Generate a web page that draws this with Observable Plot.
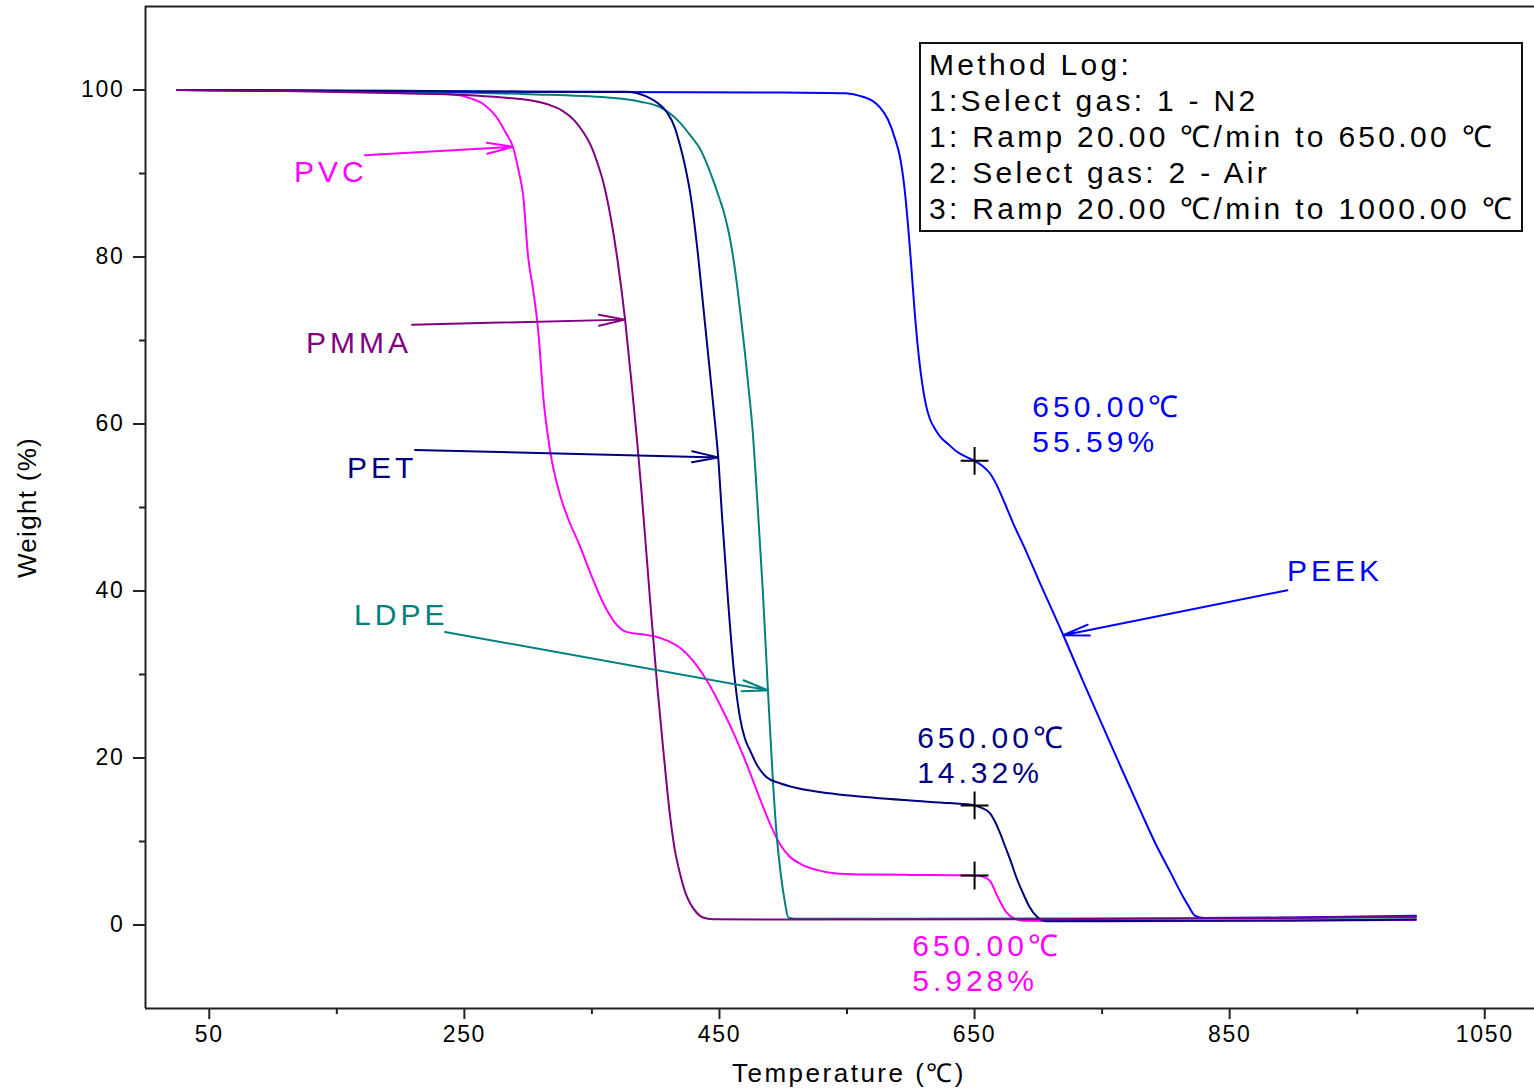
<!DOCTYPE html>
<html>
<head>
<meta charset="utf-8">
<script src="https://cdn.jsdelivr.net/npm/d3@7"></script>
<script src="https://cdn.jsdelivr.net/npm/@observablehq/plot@0.6"></script>
<style>
  body { margin: 0; background: #fff; }
  #wrap { position: relative; width: 1534px; height: 1092px; font-family: "Liberation Sans", Arial, sans-serif; }
  #wrap svg { font-family: "Liberation Sans", Arial, sans-serif; }
  #log { position: absolute; left: 919px; top: 42px; width: 604px; height: 190px; box-sizing: border-box;
         border: 2px solid #111; background: #fff; color: #000; font-size: 30px; letter-spacing: 3.3px;
         line-height: 36px; padding: 3px 0 0 8px; white-space: pre; }
</style>
</head>
<body>
<div id="wrap"></div>
<script>
// ---------- data (temperature °C, weight %) ----------
const materials = ["PVC", "PMMA", "PET", "LDPE", "PEEK"];

const pvcT = [25, 100, 150, 200, 240, 255, 265, 275, 282, 288, 293, 296, 300, 304, 308, 312, 317, 325, 331, 340, 350, 360, 368, 377, 390, 398, 410, 419, 430, 440, 450, 461, 472, 482, 490, 497, 505, 515, 526, 540, 560, 600, 650, 656, 662, 668, 675, 681, 690, 750, 850, 996];
const pvcW = [100, 100, 99.9, 99.7, 99.5, 99.0, 98.3, 96.8, 95.0, 93.2, 90.0, 87.5, 80.0, 76.0, 71.0, 63.0, 57.0, 51.5, 48.8, 45.6, 41.7, 38.2, 36.2, 35.1, 34.8, 34.6, 34.0, 33.2, 31.5, 29.3, 26.5, 23.0, 19.0, 15.0, 12.0, 9.8, 8.2, 7.2, 6.6, 6.2, 6.05, 6.0, 5.93, 5.8, 5.3, 3.4, 1.5, 0.8, 0.5, 0.45, 0.5, 0.6];

const pmmaT = [25, 100, 200, 250, 280, 300, 315, 327, 336, 343, 349, 354, 359, 365, 370, 376, 381, 385.4, 389, 395.6, 401, 406, 411.4, 415, 419, 423, 427, 432, 437, 445, 500, 700, 850, 996];
const pmmaW = [100, 99.9, 99.6, 99.4, 99.1, 98.8, 98.3, 97.5, 96.4, 95.0, 93.4, 91.4, 88.9, 84.5, 79.7, 72.5, 65.0, 58.0, 51.7, 38.9, 29.0, 20.9, 12.9, 9.0, 6.2, 4.0, 2.6, 1.5, 0.9, 0.7, 0.65, 0.7, 0.8, 1.0];

const petT = [25, 200, 300, 377, 393, 401, 409, 415, 419, 423, 427, 433, 438, 442, 446.6, 449, 452, 456.7, 461, 466, 470, 474, 480, 487, 497, 508, 530, 552, 600, 630, 650, 656, 662, 666, 670, 674, 678, 683, 688, 693, 699, 707, 800, 900, 996];
const petW = [100, 99.9, 99.8, 99.8, 99.2, 98.5, 97.3, 95.5, 93.4, 90.9, 87.7, 80.5, 73.0, 67.0, 60.0, 56.0, 49.0, 38.9, 30.9, 24.9, 22.3, 20.9, 19.0, 17.7, 17.0, 16.5, 15.9, 15.5, 14.9, 14.6, 14.32, 14.0, 13.4, 12.4, 11.0, 9.4, 7.8, 5.6, 3.8, 2.2, 1.0, 0.45, 0.5, 0.55, 0.65];

const ldpeT = [25, 200, 300, 362, 388, 404, 412, 419, 427, 435, 440, 445, 450, 453, 456, 458.5, 461, 463.5, 466, 470, 473, 475.6, 480, 484, 488, 492, 495, 497, 499, 501, 504, 510, 600, 800, 996];
const ldpeW = [100, 99.8, 99.5, 99.1, 98.6, 97.9, 97.1, 96.1, 94.6, 92.9, 91.2, 89.2, 87.0, 85.6, 83.8, 82.0, 79.7, 77.0, 73.8, 68.5, 64.0, 60.0, 50.0, 40.0, 28.1, 17.0, 10.5, 7.5, 5.0, 3.0, 0.9, 0.75, 0.75, 0.8, 0.9];

const peekT = [25, 100, 300, 500, 549, 560, 570, 576, 582, 588, 592, 596, 598, 600, 603, 606, 609, 612, 615, 619, 623, 630, 636, 643, 650, 656, 662, 667, 672.6, 680, 690, 700, 719.6, 735, 748.5, 765, 780, 792, 803.6, 812, 818, 823, 830, 900, 996];
const peekW = [100, 99.9, 99.8, 99.7, 99.6, 99.3, 98.7, 97.9, 96.5, 94.0, 91.6, 86.9, 83.5, 79.7, 73.5, 68.5, 64.8, 62.2, 60.6, 59.4, 58.5, 57.5, 56.7, 56.1, 55.59, 55.0, 54.1, 52.8, 50.9, 48.2, 44.9, 41.4, 34.7, 29.2, 24.5, 18.8, 13.7, 9.7, 6.3, 3.8, 2.2, 1.1, 0.85, 0.9, 1.1];

// marked points at 650 °C
const markT = [650, 650, 650];
const markW = [55.59, 14.32, 5.928];
const markText = ["650.00℃\n55.59%", "650.00℃\n14.32%", "650.00℃\n5.928%"];
const markMaterial = ["PEEK", "PET", "PVC"];
const markLabelT = [695.3, 605.0, 601.1];
const markLabelW = [60.1, 20.4, -4.5];

// material labels and their arrows (data units)
const labelT = [116.4, 125.8, 158.0, 163.5, 895.0];
const labelW = [90.1, 69.7, 54.7, 37.1, 42.3];
const arrowT1 = [172.1, 209.0, 211.3, 234.9, 895.3];
const arrowW1 = [92.2, 71.9, 56.9, 35.1, 40.1];
const arrowT2 = [288.2, 376.0, 449.0, 488.2, 719.5];
const arrowW2 = [93.2, 72.5, 56.0, 28.1, 34.7];

const xTicks = [50, 250, 450, 650, 850, 1050];
const xMinor = [150, 350, 550, 750, 950];
const yTicks = [0, 20, 40, 60, 80, 100];
const yMinor = [10, 30, 50, 70, 90];

const methodLog = [
  "Method Log:",
  "1:Select gas: 1 - N2",
  "1: Ramp 20.00 ℃/min to 650.00 ℃",
  "2: Select gas: 2 - Air",
  "3: Ramp 20.00 ℃/min to 1000.00 ℃"
];

// ---------- styles ----------
const palette = ["#FF00FF", "#800080", "#000080", "#008080", "#0000FF"];
const drawOrder = ["PVC", "LDPE", "PEEK", "PET", "PMMA"];

// ---------- build tables ----------
const seriesT = {PVC: pvcT, PMMA: pmmaT, PET: petT, LDPE: ldpeT, PEEK: peekT};
const seriesW = {PVC: pvcW, PMMA: pmmaW, PET: petW, LDPE: ldpeW, PEEK: peekW};
const rows = drawOrder.flatMap(m => seriesT[m].map((t, i) => ({m, T: t, W: seriesW[m][i]})));
const labels = materials.map((m, i) => ({m, T: labelT[i], W: labelW[i],
  T1: arrowT1[i], W1: arrowW1[i], T2: arrowT2[i], W2: arrowW2[i]}));
const marks = markT.map((t, i) => ({T: t, W: markW[i], text: markText[i], m: markMaterial[i], LT: markLabelT[i], LW: markLabelW[i]}));

const axisColor = "#222";

const chart = Plot.plot({
  width: 1534,
  height: 1092,
  marginLeft: 145,
  marginRight: 0,
  marginTop: 6,
  marginBottom: 84,
  style: {background: "#fff", fontFamily: "Liberation Sans, Arial, sans-serif"},
  x: {domain: [0, 1089]},
  y: {domain: [-10, 110]},
  color: {domain: materials, range: palette},
  marks: [
    Plot.axisX({ticks: xTicks, tickSize: 11, tickPadding: 6, fontSize: 23, tickFormat: d => String(d), label: null, color: axisColor, strokeWidth: 2}),
    Plot.axisX({ticks: xMinor, tickSize: 6, tickFormat: () => "", label: null, color: axisColor, strokeWidth: 2}),
    Plot.axisY({ticks: yTicks, tickSize: 12, tickPadding: 9, fontSize: 23, tickFormat: d => String(d), label: null, color: axisColor, strokeWidth: 2}),
    Plot.axisY({ticks: yMinor, tickSize: 6, tickFormat: () => "", label: null, color: axisColor, strokeWidth: 2}),
    Plot.ruleX([0], {stroke: axisColor, strokeWidth: 2}),
    Plot.ruleY([-10], {stroke: axisColor, strokeWidth: 2}),
    Plot.ruleY([110], {stroke: axisColor, strokeWidth: 2}),
    Plot.line(rows, {x: "T", y: "W", z: "m", stroke: "m", strokeWidth: 2, curve: "monotone-x"}),
    Plot.arrow(labels, {x1: "T1", y1: "W1", x2: "T2", y2: "W2", stroke: "m", strokeWidth: 2, headAngle: 24, headLength: 20}),
    Plot.text(labels, {x: "T", y: "W", text: "m", fill: "m", fontSize: 30, textAnchor: "start"}),
    Plot.dot(marks, {x: "T", y: "W", symbol: "plus", r: 9, stroke: "#000", strokeWidth: 2}),
    Plot.text(marks, {x: "LT", y: "LW", text: "text", fill: "m", fontSize: 30, textAnchor: "start", lineHeight: 1.17}),
    Plot.text(["Temperature (℃)"], {frameAnchor: "bottom", dx: 9, dy: 65, fontSize: 26, fill: "#000", textAnchor: "middle", lineAnchor: "middle"}),
    Plot.text(["Weight (%)"], {frameAnchor: "left", dx: -118, rotate: -90, fontSize: 26, fill: "#000", textAnchor: "middle", lineAnchor: "middle"})
  ]
});

const wrap = document.getElementById("wrap");
wrap.appendChild(chart);

// letter spacing like the original export
const svg = d3.select(chart);
svg.selectAll("text").style("letter-spacing", "4px");
svg.selectAll('g[aria-label="x-axis tick label"] text, g[aria-label="y-axis tick label"] text').style("letter-spacing", "1.7px").style("fill", "#000");
svg.selectAll("text").filter(function() { return this.textContent === "Temperature (℃)"; }).style("letter-spacing", "2.5px");
svg.selectAll("text").filter(function() { return this.textContent === "Weight (%)"; }).style("letter-spacing", "1.3px");

const log = document.createElement("div");
log.id = "log";
log.textContent = methodLog.join("\n");
wrap.appendChild(log);
</script>
</body>
</html>
